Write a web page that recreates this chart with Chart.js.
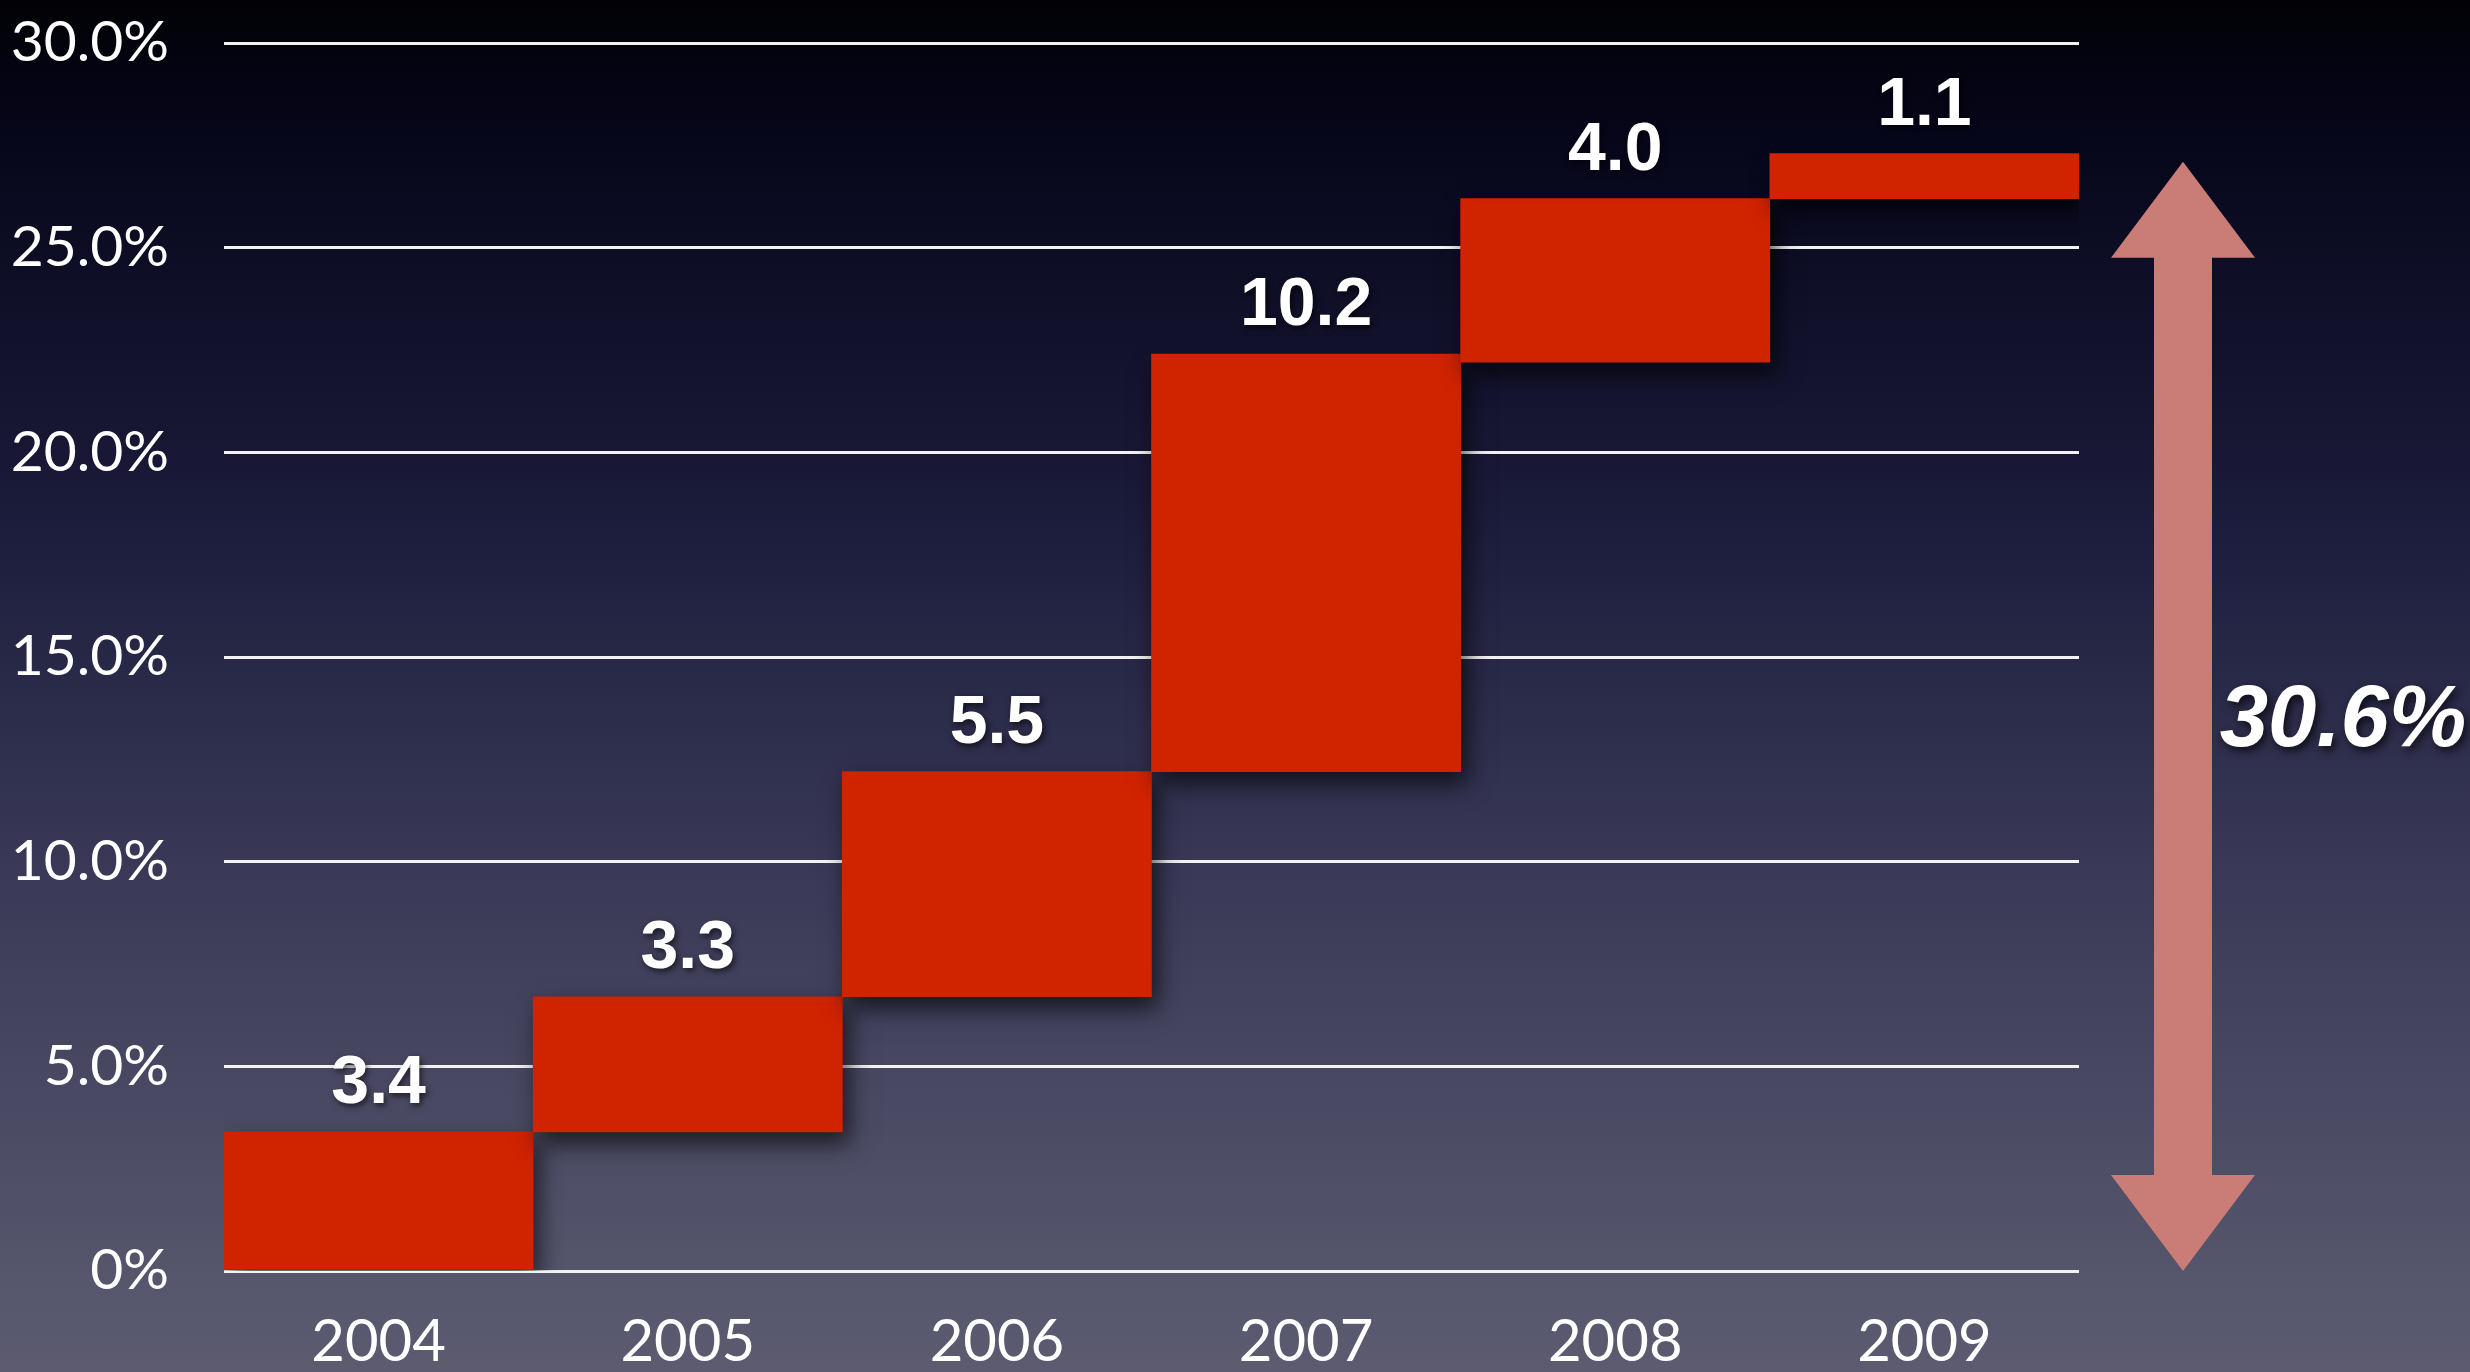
<!DOCTYPE html>
<html>
<head>
<meta charset="utf-8">
<script src="https://cdn.jsdelivr.net/npm/chart.js@4/dist/chart.umd.min.js"></script>
<style>
html,body{margin:0;padding:0;background:#000;}
#wrap{width:2470px;height:1372px;position:relative;}
</style>
</head>
<body>
<div id="wrap"><canvas id="c" width="2470" height="1372"></canvas></div>
<script>
// ---- data ----
const years = ['2004', '2005', '2006', '2007', '2008', '2009'];
const barStart = [0, 3.4, 6.7, 12.2, 22.2, 26.2];
const barEnd = [3.4, 6.7, 12.2, 22.4, 26.2, 27.3];
const changeLabels = ['3.4', '3.3', '5.5', '10.2', '4.0', '1.1'];
const yTickValues = [0, 5, 10, 15, 20, 25, 30];
const totalLabel = '30.6%';
const arrowRange = [0, 27.1];

const floating = barStart.map((s, i) => [s, barEnd[i]]);

const bgPlugin = {
  id: 'bg',
  beforeDraw(chart) {
    const ctx = chart.ctx;
    const g = ctx.createLinearGradient(0, 0, 0, chart.height);
    g.addColorStop(0, '#010106');
    g.addColorStop(0.095, '#06061a');
    g.addColorStop(0.386, '#1c1c3c');
    g.addColorStop(0.64, '#3a3a58');
    g.addColorStop(0.96, '#58586e');
    g.addColorStop(1, '#5c5b70');
    ctx.save();
    ctx.fillStyle = g;
    ctx.fillRect(0, 0, chart.width, chart.height);
    ctx.restore();
  }
};

const shadowPlugin = {
  id: 'barShadow',
  beforeDatasetsDraw(chart) {
    const ctx = chart.ctx;
    ctx.save();
    ctx.shadowColor = 'rgba(0,0,0,0.65)';
    ctx.shadowBlur = 22;
    ctx.shadowOffsetX = 6;
    ctx.shadowOffsetY = 12;
  },
  afterDatasetsDraw(chart) {
    chart.ctx.restore();
  }
};

const labelPlugin = {
  id: 'labels',
  afterDraw(chart) {
    const ctx = chart.ctx;
    const meta = chart.getDatasetMeta(0);
    const y = chart.scales.y;
    ctx.save();
    ctx.shadowColor = 'rgba(0,0,0,0.6)';
    ctx.shadowBlur = 6;
    ctx.shadowOffsetX = 2;
    ctx.shadowOffsetY = 3;
    ctx.fillStyle = '#ffffff';
    ctx.font = 'bold 68px "Liberation Sans", Arial, sans-serif';
    ctx.textAlign = 'center';
    ctx.textBaseline = 'alphabetic';
    meta.data.forEach((bar, i) => {
      const top = y.getPixelForValue(barEnd[i]);
      ctx.fillText(changeLabels[i], bar.x, top - 29);
    });
    ctx.restore();

    // double-headed arrow
    const area = chart.chartArea;
    const cx = area.right + 104;
    const yTop = y.getPixelForValue(arrowRange[1]);
    const yBot = y.getPixelForValue(arrowRange[0]);
    const shaftW = 58, headW = 144, headH = 96;
    ctx.save();
    ctx.fillStyle = '#c97d76';
    ctx.beginPath();
    ctx.moveTo(cx, yTop);
    ctx.lineTo(cx + headW / 2, yTop + headH);
    ctx.lineTo(cx + shaftW / 2, yTop + headH);
    ctx.lineTo(cx + shaftW / 2, yBot - headH);
    ctx.lineTo(cx + headW / 2, yBot - headH);
    ctx.lineTo(cx, yBot);
    ctx.lineTo(cx - headW / 2, yBot - headH);
    ctx.lineTo(cx - shaftW / 2, yBot - headH);
    ctx.lineTo(cx - shaftW / 2, yTop + headH);
    ctx.lineTo(cx - headW / 2, yTop + headH);
    ctx.closePath();
    ctx.fill();
    ctx.restore();

    ctx.save();
    ctx.shadowColor = 'rgba(0,0,0,0.7)';
    ctx.shadowBlur = 8;
    ctx.shadowOffsetX = 3;
    ctx.shadowOffsetY = 4;
    ctx.fillStyle = '#ffffff';
    ctx.font = 'italic bold 87px "Liberation Sans", Arial, sans-serif';
    ctx.textAlign = 'center';
    ctx.textBaseline = 'middle';
    ctx.fillText(totalLabel, cx + 160, y.getPixelForValue(arrowRange[1] / 2) + 6);
    ctx.restore();
  }
};

new Chart(document.getElementById('c'), {
  type: 'bar',
  data: {
    labels: years,
    datasets: [{
      data: floating,
      backgroundColor: '#d02300',
      borderWidth: 0,
      borderSkipped: false,
      barPercentage: 1.0,
      categoryPercentage: 1.0
    }]
  },
  options: {
    responsive: false,
    animation: false,
    layout: { padding: { top: 43, right: 391, bottom: 0, left: 0 } },
    plugins: { legend: { display: false }, tooltip: { enabled: false } },
    scales: {
      x: {
        grid: { display: false, drawTicks: false },
        border: { display: false },
        ticks: {
          color: '#ffffff',
          font: { family: 'Lato, "Open Sans", sans-serif', size: 58 },
          padding: 36
        },
        afterFit(s) { s.height = 101; s.paddingLeft = 0; s.paddingRight = 0; }
      },
      y: {
        min: 0,
        max: 30,
        afterBuildTicks(s) { s.ticks = yTickValues.map(v => ({ value: v })); },
        grid: { color: '#f2f2f2', lineWidth: 3, drawTicks: false },
        border: { display: false },
        ticks: {
          color: '#ffffff',
          font: { family: 'Lato, "Open Sans", sans-serif', size: 57 },
          padding: 55,
          callback: v => v === 0 ? '0%' : v.toFixed(1) + '%'
        },
        afterFit(s) { s.width = 224; s.paddingTop = 0; s.paddingBottom = 0; }
      }
    }
  },
  plugins: [bgPlugin, shadowPlugin, labelPlugin]
});
</script>
</body>
</html>
